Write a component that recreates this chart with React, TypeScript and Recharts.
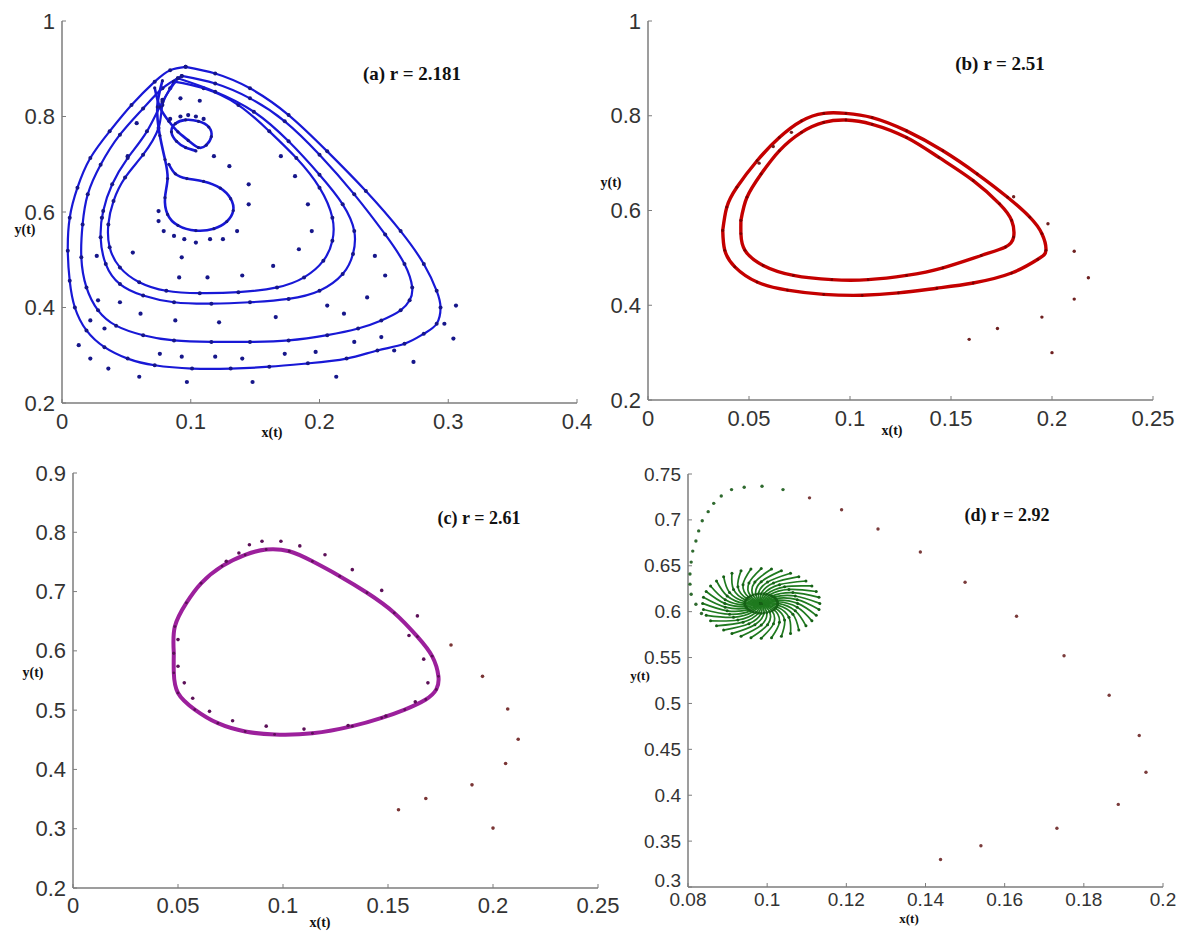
import React from "react";
import { ScatterChart, Scatter, XAxis, YAxis } from "recharts";

type Pt = { x: number; y: number };

// ---- panel (a) r = 2.181 ----
const aXTicks = [0, 0.1, 0.2, 0.3, 0.4];
const aYTicks = [0.2, 0.4, 0.6, 0.8, 1];
const aStrand1 = [[0.096,0.904],[0.119,0.89],[0.146,0.859],[0.176,0.803],[0.206,0.727],[0.236,0.644],[0.263,0.56],[0.281,0.491],[0.291,0.435],[0.294,0.40],[0.291,0.366],[0.281,0.345],[0.266,0.324],[0.245,0.31],[0.221,0.293],[0.191,0.283],[0.161,0.276],[0.131,0.272],[0.101,0.272],[0.072,0.279],[0.051,0.293],[0.033,0.317],[0.019,0.352],[0.010,0.40],[0.006,0.456],[0.0045,0.519],[0.006,0.588],[0.012,0.651],[0.022,0.713],[0.037,0.769],[0.054,0.824],[0.072,0.873],[0.084,0.897],[0.096,0.904]];
const aStrand2 = [[0.093,0.885],[0.119,0.869],[0.146,0.838],[0.173,0.79],[0.2,0.72],[0.227,0.637],[0.251,0.553],[0.266,0.491],[0.272,0.442],[0.270,0.415],[0.263,0.394],[0.248,0.373],[0.23,0.356],[0.206,0.342],[0.176,0.331],[0.146,0.328],[0.116,0.328],[0.087,0.331],[0.063,0.342],[0.042,0.362],[0.028,0.394],[0.019,0.442],[0.015,0.505],[0.016,0.574],[0.020,0.637],[0.030,0.699],[0.045,0.762],[0.063,0.817],[0.078,0.859],[0.093,0.885]];
const aStrand3 = [[0.087,0.873],[0.110,0.859],[0.137,0.824],[0.161,0.769],[0.182,0.713],[0.2,0.651],[0.210,0.588],[0.210,0.540],[0.203,0.498],[0.188,0.463],[0.167,0.442],[0.137,0.432],[0.107,0.430],[0.081,0.435],[0.060,0.453],[0.045,0.484],[0.037,0.526],[0.036,0.574],[0.040,0.623],[0.049,0.672],[0.063,0.720],[0.075,0.776],[0.078,0.824],[0.084,0.859],[0.087,0.873]];
const aStrand4 = [[0.09,0.88],[0.119,0.852],[0.149,0.810],[0.176,0.748],[0.2,0.678],[0.218,0.616],[0.227,0.56],[0.226,0.512],[0.218,0.47],[0.2,0.435],[0.176,0.418],[0.146,0.411],[0.116,0.408],[0.087,0.411],[0.063,0.425],[0.045,0.449],[0.034,0.491],[0.030,0.547],[0.032,0.602],[0.039,0.658],[0.051,0.713],[0.066,0.769],[0.078,0.831],[0.09,0.88]];
const aLoopLow = [[0.078,0.875],[0.074,0.82],[0.076,0.76],[0.080,0.71],[0.082,0.67],[0.080,0.63],[0.082,0.595],[0.090,0.572],[0.104,0.561],[0.118,0.565],[0.128,0.58],[0.133,0.603],[0.131,0.628],[0.123,0.65],[0.110,0.664],[0.097,0.67],[0.088,0.68],[0.083,0.70]];
const aLoopUp = [[0.072,0.86],[0.076,0.82],[0.083,0.79],[0.090,0.768],[0.098,0.75],[0.106,0.735],[0.112,0.74],[0.116,0.758],[0.114,0.778],[0.106,0.79],[0.096,0.793],[0.088,0.785],[0.085,0.768],[0.089,0.748],[0.096,0.735],[0.104,0.728]];
const aStray = [[0.078,0.835],[0.092,0.838],[0.107,0.833],[0.058,0.786],[0.118,0.717],[0.130,0.696],[0.145,0.658],[0.145,0.616],[0.136,0.560],[0.125,0.543],[0.115,0.543],[0.104,0.536],[0.095,0.543],[0.087,0.55],[0.079,0.56],[0.075,0.581],[0.075,0.602],[0.051,0.717],[0.031,0.588],[0.027,0.508],[0.055,0.515],[0.093,0.505],[0.113,0.463],[0.091,0.463],[0.140,0.467],[0.164,0.487],[0.184,0.522],[0.191,0.616],[0.194,0.560],[0.181,0.675],[0.170,0.717],[0.045,0.411],[0.061,0.387],[0.088,0.373],[0.122,0.369],[0.166,0.38],[0.219,0.387],[0.206,0.404],[0.237,0.421],[0.243,0.508],[0.251,0.467],[0.306,0.404],[0.297,0.366],[0.304,0.335],[0.227,0.328],[0.248,0.338],[0.273,0.286],[0.213,0.255],[0.148,0.244],[0.097,0.244],[0.060,0.255],[0.036,0.272],[0.022,0.293],[0.013,0.321],[0.022,0.373],[0.033,0.356],[0.076,0.303],[0.093,0.297],[0.119,0.297],[0.140,0.293],[0.173,0.303],[0.197,0.307],[0.258,0.31],[0.028,0.415],[0.092,0.80],[0.098,0.803],[0.104,0.80],[0.110,0.795],[0.084,0.795]];

// ---- panel (b) r = 2.51 ----
const bXTicks = [0, 0.05, 0.1, 0.15, 0.2, 0.25];
const bYTicks = [0.2, 0.4, 0.6, 0.8, 1];
const bOuter = [[0.037,0.558],[0.039,0.607],[0.044,0.649],[0.054,0.705],[0.065,0.754],[0.076,0.789],[0.087,0.805],[0.098,0.805],[0.111,0.796],[0.128,0.768],[0.146,0.726],[0.163,0.677],[0.178,0.628],[0.189,0.586],[0.195,0.551],[0.197,0.516],[0.193,0.497],[0.180,0.468],[0.161,0.447],[0.143,0.436],[0.124,0.426],[0.106,0.421],[0.087,0.423],[0.069,0.432],[0.054,0.449],[0.043,0.481],[0.038,0.516],[0.037,0.558]];
const bInner = [[0.046,0.579],[0.049,0.628],[0.056,0.677],[0.065,0.726],[0.076,0.765],[0.087,0.786],[0.098,0.791],[0.111,0.782],[0.128,0.754],[0.144,0.712],[0.161,0.663],[0.174,0.614],[0.180,0.579],[0.181,0.544],[0.177,0.523],[0.165,0.505],[0.146,0.479],[0.128,0.463],[0.109,0.454],[0.091,0.454],[0.072,0.463],[0.057,0.484],[0.048,0.516],[0.046,0.551],[0.046,0.579]];
const bStray = [[0.198,0.572],[0.211,0.514],[0.218,0.458],[0.211,0.413],[0.195,0.375],[0.173,0.351],[0.159,0.328],[0.200,0.300],[0.181,0.629],[0.055,0.70],[0.062,0.735],[0.071,0.765]];

// ---- panel (c) r = 2.61 ----
const cXTicks = [0, 0.05, 0.1, 0.15, 0.2, 0.25];
const cYTicks = [0.2, 0.3, 0.4, 0.5, 0.6, 0.7, 0.8, 0.9];
const cLoop = [[0.048,0.596],[0.0485,0.641],[0.054,0.681],[0.061,0.714],[0.071,0.743],[0.082,0.762],[0.092,0.771],[0.103,0.768],[0.114,0.751],[0.127,0.726],[0.140,0.698],[0.153,0.664],[0.164,0.624],[0.171,0.591],[0.174,0.557],[0.173,0.535],[0.168,0.518],[0.158,0.501],[0.147,0.487],[0.133,0.473],[0.114,0.461],[0.096,0.459],[0.082,0.464],[0.069,0.478],[0.058,0.501],[0.050,0.529],[0.048,0.563],[0.048,0.596]];
const cNear = [[0.084,0.779],[0.090,0.785],[0.099,0.785],[0.108,0.777],[0.120,0.762],[0.133,0.737],[0.147,0.702],[0.164,0.659],[0.079,0.765],[0.073,0.751],[0.050,0.619],[0.050,0.574],[0.053,0.546],[0.057,0.520],[0.065,0.498],[0.076,0.482],[0.092,0.473],[0.110,0.468],[0.131,0.474],[0.149,0.490],[0.163,0.514],[0.169,0.546],[0.167,0.586],[0.160,0.626]];
const cStray = [[0.180,0.610],[0.195,0.557],[0.207,0.502],[0.212,0.451],[0.206,0.410],[0.190,0.374],[0.168,0.351],[0.155,0.332],[0.200,0.301]];

// ---- panel (d) r = 2.92 ----
const dXTicks = [0.08, 0.1, 0.12, 0.14, 0.16, 0.18, 0.2];
const dYTicks = [0.3, 0.35, 0.4, 0.45, 0.5, 0.55, 0.6, 0.65, 0.7, 0.75];
const dArc = [[0.0834,0.598],[0.082,0.608],[0.0808,0.619],[0.0805,0.630],[0.0805,0.641],[0.0808,0.654],[0.0812,0.666],[0.082,0.677],[0.0827,0.688],[0.0836,0.699],[0.0851,0.709],[0.0865,0.718],[0.0884,0.726],[0.091,0.733],[0.0942,0.7355],[0.0987,0.7366],[0.104,0.733]];
const dFar = [[0.1107,0.724],[0.1188,0.711],[0.128,0.690],[0.1387,0.665],[0.150,0.632],[0.163,0.595],[0.175,0.552],[0.1864,0.509],[0.194,0.465],[0.1957,0.425],[0.1887,0.390],[0.1732,0.364],[0.154,0.345],[0.1438,0.330]];
const dCenter = [0.0985, 0.609];
const dOuter = [[0.1133,0.609],[0.1131,0.6156],[0.1124,0.622],[0.1113,0.628],[0.1098,0.6334],[0.1080,0.6381],[0.1059,0.6419],[0.1036,0.6447],[0.1011,0.6464],[0.0985,0.647],[0.0959,0.6464],[0.0934,0.6447],[0.0911,0.6419],[0.0890,0.6381],[0.0872,0.6334],[0.0857,0.628],[0.0846,0.622],[0.0839,0.6156],[0.0837,0.609],[0.0839,0.6024],[0.0846,0.596],[0.0857,0.590],[0.0872,0.5846],[0.0890,0.5799],[0.0911,0.5761],[0.0934,0.5733],[0.0959,0.5716],[0.0985,0.571],[0.1011,0.5716],[0.1036,0.5733],[0.1059,0.5761],[0.1080,0.5799],[0.1098,0.5846],[0.1113,0.590],[0.1124,0.596],[0.1131,0.6024]];
const dMid = [[0.1077,0.609],[0.1076,0.6131],[0.1071,0.6171],[0.1065,0.6208],[0.1055,0.6242],[0.1044,0.6271],[0.1031,0.6294],[0.1016,0.6312],[0.1001,0.6322],[0.0985,0.6326],[0.0969,0.6322],[0.0954,0.6312],[0.0939,0.6294],[0.0926,0.6271],[0.0915,0.6242],[0.0905,0.6208],[0.0899,0.6171],[0.0894,0.6131],[0.0893,0.609],[0.0894,0.6049],[0.0899,0.6009],[0.0905,0.5972],[0.0915,0.5938],[0.0926,0.5909],[0.0939,0.5886],[0.0954,0.5868],[0.0969,0.5858],[0.0985,0.5854],[0.1001,0.5858],[0.1016,0.5868],[0.1031,0.5886],[0.1044,0.5909],[0.1055,0.5938],[0.1065,0.5972],[0.1071,0.6009],[0.1076,0.6049]];
const dInner = [[0.1027,0.609],[0.1026,0.6108],[0.1024,0.6126],[0.1021,0.6143],[0.1017,0.6158],[0.1012,0.6171],[0.1006,0.6182],[0.0999,0.6190],[0.0992,0.6194],[0.0985,0.6196],[0.0978,0.6194],[0.0971,0.6190],[0.0964,0.6182],[0.0958,0.6171],[0.0953,0.6158],[0.0949,0.6143],[0.0946,0.6126],[0.0944,0.6108],[0.0943,0.609],[0.0944,0.6072],[0.0946,0.6054],[0.0949,0.6037],[0.0953,0.6022],[0.0958,0.6009],[0.0964,0.5998],[0.0971,0.5990],[0.0978,0.5986],[0.0985,0.5984],[0.0992,0.5986],[0.0999,0.5990],[0.1006,0.5998],[0.1012,0.6009],[0.1017,0.6022],[0.1021,0.6037],[0.1024,0.6054],[0.1026,0.6072]];

const sans = '"Liberation Sans", Arial, sans-serif';
const serif = '"Liberation Serif", "Times New Roman", serif';
const axisGray = "#7d7d7d";

const toPts = (arr: number[][]): Pt[] => arr.map(([x, y]) => ({ x, y }));

function series(key: string, pts: number[][], dot: string, r: number, stroke?: string, width = 2) {
  return (
    <Scatter
      key={key}
      data={toPts(pts)}
      dataKey="y"
      isAnimationActive={false}
      legendType="none"
      line={stroke ? { stroke, strokeWidth: width } : false}
      lineJointType="natural"
      shape={(p: any) => <circle cx={p.cx} cy={p.cy} r={r} fill={dot} />}
    />
  );
}

interface PanelProps {
  left: number;
  top: number;
  width: number;
  height: number;
  margin: { top: number; right: number; bottom: number; left: number };
  xDomain: [number, number];
  yDomain: [number, number];
  xTicks: number[];
  yTicks: number[];
  fontSize: number;
  xGap: number;
  liftFirstY?: number;
  children: React.ReactNode;
}

function Panel({ left, top, width, height, margin, xDomain, yDomain, xTicks, yTicks, fontSize, xGap, liftFirstY = 0, children }: PanelProps) {
  const tick = { fill: "#333", fontSize, fontFamily: sans };
  // matlab puts the lowest y label a bit higher where it meets the first x label
  const yTick = (p: any) => (
    <text
      x={p.x}
      y={p.y}
      dy={p.payload.value === yTicks[0] ? -liftFirstY : 0}
      textAnchor="end"
      dominantBaseline="central"
      fill="#333"
      fontSize={fontSize}
      fontFamily={sans}
    >
      {p.payload.value}
    </text>
  );
  return (
    <div style={{ position: "absolute", left, top }}>
      <ScatterChart width={width} height={height} margin={margin}>
        <XAxis
          type="number"
          dataKey="x"
          domain={xDomain}
          ticks={xTicks}
          interval={0}
          height={30}
          tickSize={-4}
          tickMargin={xGap}
          axisLine={{ stroke: axisGray, strokeWidth: 1.5 }}
          tickLine={{ stroke: axisGray }}
          tick={tick}
          allowDataOverflow
        />
        <YAxis
          type="number"
          dataKey="y"
          domain={yDomain}
          ticks={yTicks}
          interval={0}
          width={60}
          tickSize={-4}
          tickMargin={11}
          axisLine={{ stroke: axisGray, strokeWidth: 1.5 }}
          tickLine={{ stroke: axisGray }}
          tick={yTick}
          allowDataOverflow
        />
        {children}
      </ScatterChart>
    </div>
  );
}

function Note({ x, y, text, size }: { x: number; y: number; text: string; size: number }) {
  return (
    <div
      style={{
        position: "absolute",
        left: x,
        top: y,
        transform: "translate(-50%, -50%)",
        fontFamily: serif,
        fontWeight: "bold",
        fontSize: size,
        color: "#111",
        whiteSpace: "nowrap",
        lineHeight: 1,
      }}
    >
      {text}
    </div>
  );
}

export default function App() {
  const blueLine = "#1818d6";
  const blueDot = "#16168a";
  const arms = dOuter.map((o, k) => [o, dMid[(k + 2) % 36], dInner[(k + 4) % 36], dCenter]);

  return (
    <div style={{ position: "absolute", left: 0, top: 0, width: 1187, height: 932, background: "#fff", overflow: "hidden" }}>
      {/* (a) */}
      <Panel left={0} top={0} width={600} height={440} margin={{ top: 21, right: 23, bottom: 7, left: 2 }}
        xDomain={[0, 0.4]} yDomain={[0.2, 1]} xTicks={aXTicks} yTicks={aYTicks} fontSize={22} xGap={14}>
        {series("a1", aStrand1, blueDot, 2, blueLine, 2.2)}
        {series("a2", aStrand2, blueDot, 2, blueLine, 2.2)}
        {series("a3", aStrand3, blueDot, 2, blueLine, 2.2)}
        {series("a4", aStrand4, blueDot, 2, blueLine, 2.2)}
        {series("a5", aLoopLow, blueDot, 1.6, blueLine, 2.6)}
        {series("a6", aLoopUp, blueDot, 1.6, blueLine, 2.6)}
        {series("a7", aStray, blueDot, 2.1)}
      </Panel>

      {/* (b) */}
      <Panel left={588} top={0} width={599} height={440} margin={{ top: 21, right: 34, bottom: 10, left: 0 }}
        xDomain={[0, 0.25]} yDomain={[0.2, 1]} xTicks={bXTicks} yTicks={bYTicks} fontSize={22} xGap={14}>
        {series("b1", bOuter, "#7a0000", 1.4, "#c40000", 3.4)}
        {series("b2", bInner, "#7a0000", 1.4, "#c40000", 3.4)}
        {series("b3", bStray, "#6e2020", 1.7)}
      </Panel>

      {/* (c) */}
      <Panel left={0} top={440} width={620} height={492} margin={{ top: 33, right: 22, bottom: 14, left: 13 }}
        xDomain={[0, 0.25]} yDomain={[0.2, 0.9]} xTicks={cXTicks} yTicks={cYTicks} fontSize={22} xGap={13}>
        {series("c1", cLoop, "#5c1058", 1.4, "#9c209c", 4)}
        {series("c2", cNear, "#5c1058", 1.8)}
        {series("c3", cStray, "#7a3535", 1.8)}
      </Panel>

      {/* (d) */}
      <Panel left={600} top={440} width={587} height={492} margin={{ top: 34, right: 24, bottom: 15, left: 28 }}
        xDomain={[0.08, 0.2]} yDomain={[0.3, 0.75]} xTicks={dXTicks} yTicks={dYTicks} fontSize={19} xGap={10} liftFirstY={7}>
        {arms.map((arm, k) => series(`d-arm-${k}`, arm, "#166016", 1.5, "#1f7a1f", 1.7))}
        {series("d1", dArc, "#2f6a2f", 1.7)}
        {series("d2", dFar, "#7a3b3b", 1.7)}
      </Panel>

      <Note x={412} y={73} text="(a) r = 2.181" size={19} />
      <Note x={1000} y={63} text="(b) r = 2.51" size={19} />
      <Note x={479} y={518} text="(c) r = 2.61" size={18} />
      <Note x={1007} y={515} text="(d) r = 2.92" size={18} />

      <Note x={272} y={433} text="x(t)" size={14} />
      <Note x={892} y={431} text="x(t)" size={14} />
      <Note x={320} y={923} text="x(t)" size={14} />
      <Note x={909} y={918} text="x(t)" size={13} />

      <Note x={25} y={230} text="y(t)" size={14} />
      <Note x={611} y={183} text="y(t)" size={14} />
      <Note x={33} y={673} text="y(t)" size={14} />
      <Note x={640} y={675} text="y(t)" size={13} />
    </div>
  );
}
